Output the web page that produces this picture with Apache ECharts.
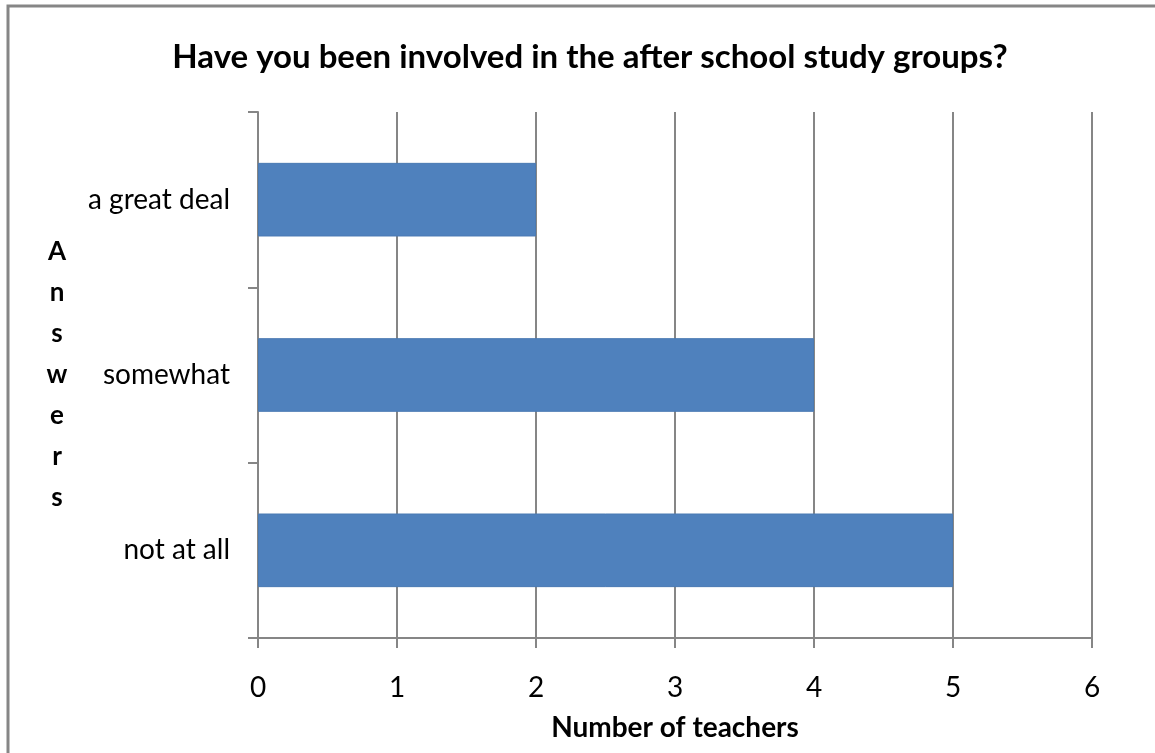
<!DOCTYPE html>
<html>
<head>
<meta charset="utf-8">
<title>After school study groups</title>
<script src="https://cdn.jsdelivr.net/npm/echarts@6/dist/echarts.min.js"></script>
<style>
  html, body { margin: 0; padding: 0; background: #ffffff; }
  #chart { width: 1155px; height: 753px; }
</style>
</head>
<body>
<div id="chart"></div>
<script>
// Survey answers (bottom to top) and the number of teachers giving each
const answers = ['not at all', 'somewhat', 'a great deal'];
const teacherCounts = [5, 4, 2];
const xTicks = { min: 0, max: 6, step: 1 };

const titleText = 'Have you been involved in the after school study groups?';
const xAxisTitle = 'Number of teachers';
const yAxisTitle = 'Answers';

const FONT = 'Lato, "Open Sans", "Noto Sans", sans-serif';
const GRAY = '#868686';

const chart = echarts.init(document.getElementById('chart'), null, { renderer: 'canvas' });

chart.setOption({
  backgroundColor: '#ffffff',
  animation: false,
  title: {
    text: titleText,
    left: 585,
    top: 36,
    textAlign: 'center',
    textStyle: { fontFamily: FONT, fontWeight: 'bold', fontSize: 33, color: '#000000' }
  },
  graphic: [{
    type: 'rect',
    shape: { x: 8, y: 6, width: 1300, height: 900 },
    style: { fill: 'none', stroke: GRAY, lineWidth: 3 },
    silent: true
  }],
  grid: { left: 258, right: 63, top: 112, bottom: 115, containLabel: false },
  xAxis: {
    type: 'value',
    min: xTicks.min,
    max: xTicks.max,
    interval: xTicks.step,
    name: xAxisTitle,
    nameLocation: 'middle',
    nameGap: 76,
    nameTextStyle: { fontFamily: FONT, fontWeight: 'bold', fontSize: 28, color: '#000000' },
    axisLine: { show: true, lineStyle: { color: GRAY, width: 2 } },
    axisTick: { show: true, length: 10, lineStyle: { color: GRAY, width: 2 } },
    axisLabel: { margin: 36, fontFamily: FONT, fontSize: 28, color: '#000000' },
    splitLine: { show: true, lineStyle: { color: GRAY, width: 2 } }
  },
  yAxis: {
    type: 'category',
    data: answers,
    name: yAxisTitle.split('').join('\n'),
    nameLocation: 'middle',
    nameRotate: 0,
    nameGap: 201,
    nameTextStyle: {
      fontFamily: FONT, fontWeight: 'bold', fontSize: 26, color: '#000000',
      lineHeight: 41, align: 'center', verticalAlign: 'middle',
      padding: [0, 0, 10, 0]
    },
    axisLine: { show: true, lineStyle: { color: GRAY, width: 2 } },
    axisTick: { show: true, length: 10, lineStyle: { color: GRAY, width: 2 } },
    axisLabel: { margin: 28, fontFamily: FONT, fontSize: 28, color: '#000000' },
    splitLine: { show: false }
  },
  series: [{
    type: 'bar',
    data: teacherCounts,
    barCategoryGap: '58%',
    itemStyle: { color: '#4F81BD', borderColor: '#4A7AB3', borderWidth: 1 }
  }]
});
</script>
</body>
</html>
